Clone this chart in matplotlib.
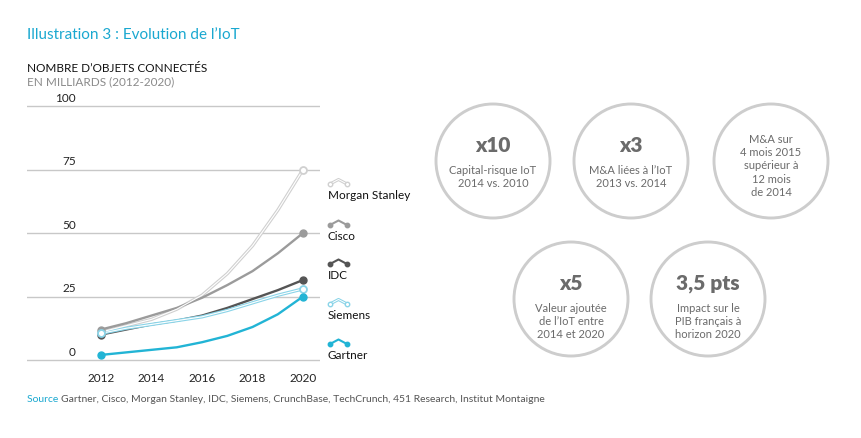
import matplotlib
matplotlib.use('Agg')
import matplotlib.pyplot as plt
from matplotlib.patches import Circle

plt.rcParams['font.family'] = ['Lato', 'DejaVu Sans']

# data (milliards d'objets connectes)
years = [2012, 2013, 2014, 2015, 2016, 2017, 2018, 2019, 2020]
morgan_stanley = [11, 13.5, 16, 20, 25.5, 34, 45, 59, 75]
cisco = [12, 14.5, 17.5, 20.5, 24.5, 29.5, 35, 42, 50]
idc = [10, 12, 14, 15.5, 17.5, 20.5, 24, 27.5, 31.5]
siemens = [10.5, 12.5, 14, 15.5, 17, 19.5, 22.5, 25.5, 28]
gartner = [2, 3, 4, 5, 7, 9.5, 13, 18, 25]

series_names = ['Morgan Stanley', 'Cisco', 'IDC', 'Siemens', 'Gartner']
series_values = [morgan_stanley, cisco, idc, siemens, gartner]
series_colors = ['#d0d0d0', '#9b9b9b', '#555555', '#8ad4e8', '#22b4d5']
series_hollow = [True, False, False, True, False]

y_ticks = [0, 25, 50, 75, 100]
x_ticks = [2012, 2014, 2016, 2018, 2020]

# chiffres cles (cercles)
bubble_big = ['x10', 'x3', '', 'x5', '3,5 pts']
bubble_text = ['Capital-risque IoT\n2014 vs. 2010',
               'M&A liées à l\u2019IoT\n2013 vs. 2014',
               'M&A sur\n4 mois 2015\nsupérieur à\n12 mois\nde 2014',
               'Valeur ajoutée\nde l\u2019IoT entre\n2014 et 2020',
               'Impact sur le\nPIB français à\nhorizon 2020']

W, H = 861, 439
fig = plt.figure(figsize=(W / 100, H / 100), dpi=100)

# overlay in pixel coords for text, legend and circles
ov = fig.add_axes([0, 0, 1, 1])
ov.set_xlim(0, W)
ov.set_ylim(H, 0)
ov.axis('off')

# main chart
x0, x1 = 2009.07, 2020.67
y0, y1 = -3, 103
px_l, px_r = 27, 320
px_b, px_t = 361 + 3 * 2.54, 107 - 3 * 2.54
ax = fig.add_axes([px_l / W, (H - px_b) / H, (px_r - px_l) / W, (px_b - px_t) / H])
ax.set_xlim(x0, x1)
ax.set_ylim(y0, y1)
ax.patch.set_alpha(0)
for s in ax.spines.values():
    s.set_visible(False)
ax.set_yticks([])
ax.set_xticks(x_ticks)
ax.set_xticklabels([str(x) for x in x_ticks], fontsize=8.5, color='#222222')
ax.tick_params(axis='x', length=0, pad=3)

for v in y_ticks:
    ax.axhline(v, color='#c8c8c8', lw=1, zorder=1)
    ax.text(2011.0, v + 3.4, str(v), ha='right', va='center', fontsize=8.5, color='#222222')

for name, vals, col, hollow in zip(series_names, series_values, series_colors, series_hollow):
    if hollow:
        ax.plot(years, vals, color=col, lw=2.4, zorder=3, solid_capstyle='round')
        ax.plot(years, vals, color='white', lw=0.8, zorder=3.1)
        ax.plot([years[0], years[-1]], [vals[0], vals[-1]], 'o', ms=5, mfc='white',
                mec=col, mew=1.3, zorder=4)
    else:
        ax.plot(years, vals, color=col, lw=1.7, zorder=3, solid_capstyle='round')
        ax.plot([years[0], years[-1]], [vals[0], vals[-1]], 'o', ms=5, mfc=col,
                mec=col, zorder=4)

# legend
legend_y = [196, 237, 276, 316, 356]
for name, col, hollow, ly in zip(series_names, series_colors, series_hollow, legend_y):
    iy = ly - 13
    xs = [330, 338.5, 347]
    ys = [iy + 2, iy - 2.5, iy + 2]
    if hollow:
        ov.plot(xs, ys, color=col, lw=2.2)
        ov.plot(xs, ys, color='white', lw=0.7)
        ov.plot([xs[0], xs[-1]], [ys[0], ys[-1]], 'o', ms=3.2, mfc='white', mec=col, mew=1)
    else:
        ov.plot(xs, ys, color=col, lw=1.5)
        ov.plot([xs[0], xs[-1]], [ys[0], ys[-1]], 'o', ms=3.2, mfc=col, mec=col)
    ov.text(328, ly, name, ha='left', va='center', fontsize=8.5, color='#111111')

# titles
ov.text(27, 35, 'Illustration 3 : Evolution de l\u2019IoT', ha='left', va='center',
        fontsize=11, color='#1aa8d0')
ov.text(27, 69, 'NOMBRE D\u2019OBJETS CONNECTÉS', ha='left', va='center',
        fontsize=8.5, color='#111111')
ov.text(27, 82, 'EN MILLIARDS (2012-2020)', ha='left', va='center',
        fontsize=8.5, color='#8a8a8a')

# source
src = ov.text(27, 400, 'Source ', ha='left', va='center', fontsize=7.5, color='#1aa8d0')
ov.annotate('Gartner, Cisco, Morgan Stanley, IDC, Siemens, CrunchBase, TechCrunch, '
            '451 Research, Institut Montaigne',
            xycoords=src, xy=(1, 0.5), va='center', ha='left', fontsize=7.5, color='#555555')

# circles
centers = [(493, 162), (631, 162), (771, 162), (571, 300), (708, 300)]
r = 57
for (cx, cy), big, txt in zip(centers, bubble_big, bubble_text):
    ov.add_patch(Circle((cx, cy), r, fill=False, ec='#cdcdcd', lw=2.1))
    if big:
        ov.text(cx, cy - 16, big, ha='center', va='center', fontsize=15,
                fontweight='heavy', color='#6b6b6b')
        ov.text(cx, cy + 3, txt, ha='center', va='top',
                fontsize=8, color='#6b6b6b', linespacing=1.25)
    else:
        ov.text(cx, cy + 4, txt, ha='center', va='center', fontsize=8,
                color='#6b6b6b', linespacing=1.25)

fig.savefig('out.png', dpi=100)
